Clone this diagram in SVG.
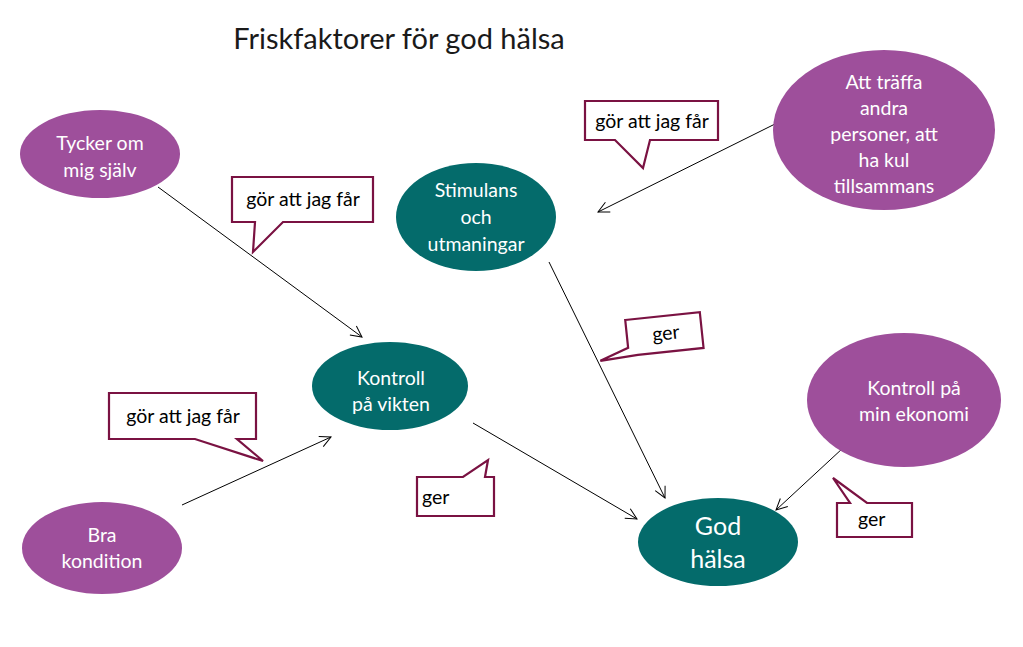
<svg xmlns="http://www.w3.org/2000/svg" width="1023" height="647" viewBox="0 0 1023 647">
<defs>
<style>
.p{fill:#9E4F9B}
.t{fill:#046B6B}
.nt{font-family:Lato,"Liberation Sans",sans-serif;font-size:19.5px;fill:#fff;text-anchor:middle}
.big{font-size:25px}
.co{fill:#fff;stroke:#7A1242;stroke-width:2.2;stroke-linejoin:miter}
.ct{font-family:Lato,"Liberation Sans",sans-serif;font-size:19.5px;fill:#000}
.e{stroke:#000;stroke-width:1;fill:none;marker-end:url(#ah)}
</style>
<marker id="ah" markerUnits="userSpaceOnUse" markerWidth="14" markerHeight="14" refX="12" refY="6" orient="auto" viewBox="0 0 14 12">
<path d="M1,0.5 L12,6 L1,11.5" fill="none" stroke="#000" stroke-width="1"/>
</marker>
</defs>
<rect width="1023" height="647" fill="#fff"/>
<text x="399" y="49" font-family="Lato,'Liberation Sans',sans-serif" font-size="29" fill="#1a1a1a" text-anchor="middle">Friskfaktorer för god hälsa</text>

<g id="connectors">
<line class="e" x1="158" y1="187" x2="362" y2="337"/>
<line class="e" x1="182" y1="505" x2="331" y2="437"/>
<line class="e" x1="775" y1="124" x2="598" y2="212"/>
<line class="e" x1="549" y1="262" x2="665" y2="498"/>
<line class="e" x1="473" y1="423" x2="637" y2="519"/>
<line class="e" x1="843" y1="448" x2="776" y2="510"/>
</g>

<g id="n-tycker">
<ellipse class="p" cx="100" cy="154" rx="80" ry="44"/>
<text class="nt" x="100" y="150">Tycker om</text>
<text class="nt" x="100" y="177">mig själv</text>
</g>
<g id="n-stimulans">
<ellipse class="t" cx="476" cy="217" rx="80" ry="54"/>
<text class="nt" x="476" y="197">Stimulans</text>
<text class="nt" x="476" y="224">och</text>
<text class="nt" x="476" y="251">utmaningar</text>
</g>
<g id="n-traffa">
<ellipse class="p" cx="884" cy="130" rx="111" ry="80"/>
<text class="nt" x="884" y="89">Att träffa</text>
<text class="nt" x="884" y="115">andra</text>
<text class="nt" x="884" y="141">personer, att</text>
<text class="nt" x="884" y="167">ha kul</text>
<text class="nt" x="884" y="193">tillsammans</text>
</g>
<g id="n-vikten">
<ellipse class="t" cx="390" cy="386" rx="78" ry="44"/>
<text class="nt" x="391" y="385">Kontroll</text>
<text class="nt" x="391" y="411">på vikten</text>
</g>
<g id="n-ekonomi">
<ellipse class="p" cx="904" cy="400" rx="97" ry="67"/>
<text class="nt" x="914" y="395">Kontroll på</text>
<text class="nt" x="914" y="421">min ekonomi</text>
</g>
<g id="n-kondition">
<ellipse class="p" cx="102" cy="548" rx="80" ry="46"/>
<text class="nt" x="102" y="542">Bra</text>
<text class="nt" x="102" y="568">kondition</text>
</g>
<g id="n-godhalsa">
<ellipse class="t" cx="718" cy="542" rx="80" ry="44"/>
<text class="nt big" x="718" y="535">God</text>
<text class="nt big" x="718" y="568">hälsa</text>
</g>

<g id="c1">
<path class="co" d="M232,177 L373,177 L373,222 L283,222 L253,252 L255,222 L232,222 Z"/>
<text class="ct" x="303" y="206" text-anchor="middle">gör att jag får</text>
</g>
<g id="c2">
<path class="co" d="M585,101 L718,101 L718,140 L650,140 L643,168 L615,140 L585,140 Z"/>
<text class="ct" x="652" y="128" text-anchor="middle">gör att jag får</text>
</g>
<g id="c3">
<path class="co" d="M109,393 L256,393 L256,439 L237,439 L263,461 L195,439 L109,439 Z"/>
<text class="ct" x="183" y="423" text-anchor="middle">gör att jag får</text>
</g>
<g id="c4">
<path class="co" d="M417,477 L463,477 L488,460 L485,477 L494,477 L494,516 L417,516 Z"/>
<text class="ct" x="422" y="504">ger</text>
</g>
<g id="c5" transform="rotate(-6 664 335)">
<path class="co" d="M627,316 L702,316 L702,352 L636,352 L598,354 L627,344 Z"/>
<text class="ct" x="666" y="340" text-anchor="middle">ger</text>
</g>
<g id="c6">
<path class="co" d="M837,503 L850,503 L833,478 L867,503 L912,503 L912,537 L837,537 Z"/>
<text class="ct" x="858" y="526">ger</text>
</g>
</svg>
